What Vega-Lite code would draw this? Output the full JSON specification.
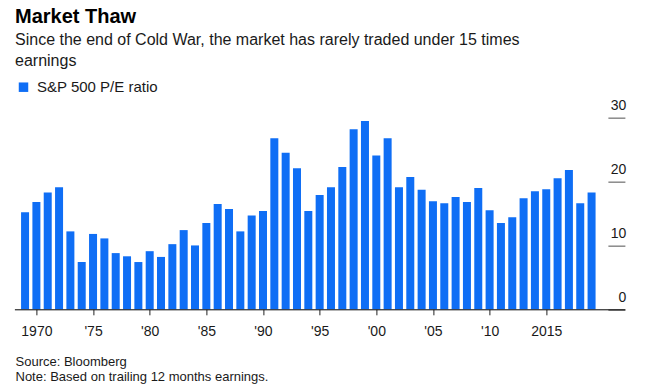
{
  "$schema": "https://vega.github.io/schema/vega-lite/v6.json",
  "autosize": "none",
  "width": 610.5,
  "height": 191.6,
  "padding": {"left": 14.4, "top": 117.7, "right": 24.1, "bottom": 79.7},
  "background": "white",
  "title": {
    "text": "Market Thaw",
    "subtitle": ["Since the end of Cold War, the market has rarely traded under 15 times", "earnings"],
    "anchor": "start",
    "frame": "group",
    "orient": "top",
    "offset": 11,
    "font": "Liberation Sans",
    "fontSize": 20,
    "fontWeight": "bold",
    "color": "#000000",
    "subtitleFont": "Liberation Sans",
    "subtitleFontSize": 16,
    "subtitleColor": "#1a1a1a",
    "subtitleLineHeight": 20.7,
    "subtitlePadding": 5,
    "dx": 0.6
  },
  "data": {
    "values": [
      {"year": 1969, "pe": 15.2, "series": "S&P 500 P/E ratio"},
      {"year": 1970, "pe": 16.8, "series": "S&P 500 P/E ratio"},
      {"year": 1971, "pe": 18.3, "series": "S&P 500 P/E ratio"},
      {"year": 1972, "pe": 19.1, "series": "S&P 500 P/E ratio"},
      {"year": 1973, "pe": 12.2, "series": "S&P 500 P/E ratio"},
      {"year": 1974, "pe": 7.4, "series": "S&P 500 P/E ratio"},
      {"year": 1975, "pe": 11.8, "series": "S&P 500 P/E ratio"},
      {"year": 1976, "pe": 11.1, "series": "S&P 500 P/E ratio"},
      {"year": 1977, "pe": 8.8, "series": "S&P 500 P/E ratio"},
      {"year": 1978, "pe": 8.3, "series": "S&P 500 P/E ratio"},
      {"year": 1979, "pe": 7.4, "series": "S&P 500 P/E ratio"},
      {"year": 1980, "pe": 9.1, "series": "S&P 500 P/E ratio"},
      {"year": 1981, "pe": 8.2, "series": "S&P 500 P/E ratio"},
      {"year": 1982, "pe": 10.2, "series": "S&P 500 P/E ratio"},
      {"year": 1983, "pe": 12.4, "series": "S&P 500 P/E ratio"},
      {"year": 1984, "pe": 10.0, "series": "S&P 500 P/E ratio"},
      {"year": 1985, "pe": 13.5, "series": "S&P 500 P/E ratio"},
      {"year": 1986, "pe": 16.5, "series": "S&P 500 P/E ratio"},
      {"year": 1987, "pe": 15.7, "series": "S&P 500 P/E ratio"},
      {"year": 1988, "pe": 12.2, "series": "S&P 500 P/E ratio"},
      {"year": 1989, "pe": 14.7, "series": "S&P 500 P/E ratio"},
      {"year": 1990, "pe": 15.4, "series": "S&P 500 P/E ratio"},
      {"year": 1991, "pe": 26.8, "series": "S&P 500 P/E ratio"},
      {"year": 1992, "pe": 24.5, "series": "S&P 500 P/E ratio"},
      {"year": 1993, "pe": 22.1, "series": "S&P 500 P/E ratio"},
      {"year": 1994, "pe": 15.4, "series": "S&P 500 P/E ratio"},
      {"year": 1995, "pe": 17.9, "series": "S&P 500 P/E ratio"},
      {"year": 1996, "pe": 19.1, "series": "S&P 500 P/E ratio"},
      {"year": 1997, "pe": 22.3, "series": "S&P 500 P/E ratio"},
      {"year": 1998, "pe": 28.2, "series": "S&P 500 P/E ratio"},
      {"year": 1999, "pe": 29.5, "series": "S&P 500 P/E ratio"},
      {"year": 2000, "pe": 24.1, "series": "S&P 500 P/E ratio"},
      {"year": 2001, "pe": 26.8, "series": "S&P 500 P/E ratio"},
      {"year": 2002, "pe": 19.1, "series": "S&P 500 P/E ratio"},
      {"year": 2003, "pe": 20.7, "series": "S&P 500 P/E ratio"},
      {"year": 2004, "pe": 18.7, "series": "S&P 500 P/E ratio"},
      {"year": 2005, "pe": 16.9, "series": "S&P 500 P/E ratio"},
      {"year": 2006, "pe": 16.6, "series": "S&P 500 P/E ratio"},
      {"year": 2007, "pe": 17.6, "series": "S&P 500 P/E ratio"},
      {"year": 2008, "pe": 16.8, "series": "S&P 500 P/E ratio"},
      {"year": 2009, "pe": 19.0, "series": "S&P 500 P/E ratio"},
      {"year": 2010, "pe": 15.5, "series": "S&P 500 P/E ratio"},
      {"year": 2011, "pe": 13.5, "series": "S&P 500 P/E ratio"},
      {"year": 2012, "pe": 14.4, "series": "S&P 500 P/E ratio"},
      {"year": 2013, "pe": 17.4, "series": "S&P 500 P/E ratio"},
      {"year": 2014, "pe": 18.5, "series": "S&P 500 P/E ratio"},
      {"year": 2015, "pe": 18.8, "series": "S&P 500 P/E ratio"},
      {"year": 2016, "pe": 20.5, "series": "S&P 500 P/E ratio"},
      {"year": 2017, "pe": 21.8, "series": "S&P 500 P/E ratio"},
      {"year": 2018, "pe": 16.6, "series": "S&P 500 P/E ratio"},
      {"year": 2019, "pe": 18.3, "series": "S&P 500 P/E ratio"}
    ]
  },
  "mark": {"type": "bar", "width": 8},
  "encoding": {
    "x": {
      "field": "year",
      "type": "quantitative",
      "scale": {"domain": [1968.5, 2021.5], "nice": false, "zero": false},
      "axis": {
        "values": [1970, 1975, 1980, 1985, 1990, 1995, 2000, 2005, 2010, 2015],
        "format": "d",
        "labelExpr": "datum.value == 1970 || datum.value == 2015 ? '' + datum.value : \"'\" + substring('' + datum.value, 2, 4)",
        "zindex": 1,
        "grid": false,
        "domain": true,
        "domainColor": "#000000",
        "domainWidth": 1,
        "ticks": true,
        "tickSize": 5.5,
        "tickColor": "#222222",
        "tickWidth": 1,
        "labelFont": "Liberation Sans",
        "labelFontSize": 14,
        "labelColor": "#1a1a1a",
        "labelPadding": 9.5,
        "labelFlush": false,
        "labelOverlap": false,
        "title": ["Source: Bloomberg", "Note: Based on trailing 12 months earnings."],
        "titleFont": "Liberation Sans",
        "titleFontSize": 13,
        "titleFontWeight": "normal",
        "titleColor": "#1a1a1a",
        "titleAnchor": "start",
        "titleAlign": "left",
        "titleBaseline": "alphabetic",
        "titleLineHeight": 15,
        "titleX": 0.6,
        "titleY": 55.7
      }
    },
    "y": {
      "field": "pe",
      "type": "quantitative",
      "scale": {"domain": [0, 30], "nice": false},
      "axis": {
        "orient": "right",
        "values": [0, 10, 20, 30],
        "zindex": 0,
        "grid": false,
        "domain": false,
        "ticks": true,
        "tickSize": -17,
        "tickColor": "#8a8a8a",
        "tickWidth": 1.5,
        "labelAlign": "right",
        "labelBaseline": "alphabetic",
        "labelPadding": 18,
        "labelOffset": -8,
        "labelFont": "Liberation Sans",
        "labelFontSize": 14,
        "labelColor": "#1a1a1a",
        "title": null
      }
    },
    "color": {
      "field": "series",
      "type": "nominal",
      "scale": {"range": ["#0f6ef5"]},
      "legend": {
        "orient": "none",
        "legendX": 1.6,
        "legendY": -38,
        "title": null,
        "symbolType": "square",
        "symbolSize": 90,
        "symbolStrokeWidth": 0,
        "labelFont": "Liberation Sans",
        "labelFontSize": 15,
        "labelColor": "#1a1a1a",
        "labelOffset": 6,
        "padding": 0
      }
    }
  },
  "config": {
    "view": {"stroke": null}
  }
}
